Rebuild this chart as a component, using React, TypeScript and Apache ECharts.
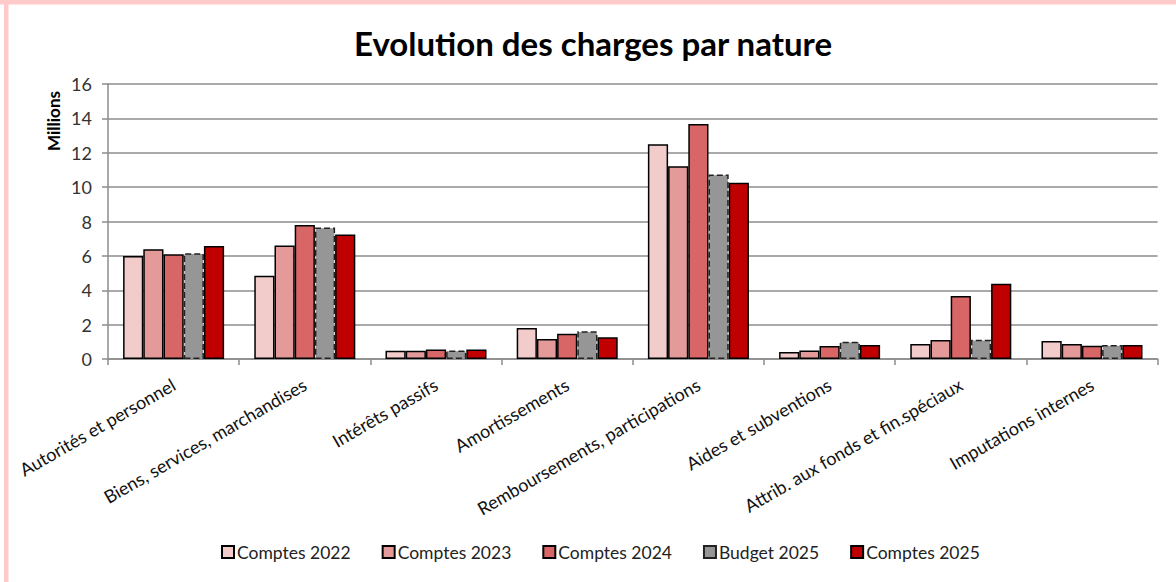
import React, { useEffect, useRef } from "react";
import * as echarts from "echarts";

const categories = [
  "Autorités et personnel",
  "Biens, services, marchandises",
  "Intérêts passifs",
  "Amortissements",
  "Remboursements, participations",
  "Aides et subventions",
  "Attrib. aux fonds et fin.spéciaux",
  "Imputations internes",
];

const comptes2022 = [6.0, 4.84, 0.48, 1.8, 12.5, 0.41, 0.87, 1.05];
const comptes2023 = [6.38, 6.61, 0.48, 1.16, 11.22, 0.5, 1.1, 0.87];
const comptes2024 = [6.1, 7.8, 0.56, 1.47, 13.68, 0.76, 3.66, 0.77];
const budget2025 = [6.16, 7.65, 0.5, 1.61, 10.74, 1.01, 1.12, 0.81];
const comptes2025 = [6.57, 7.25, 0.56, 1.26, 10.25, 0.81, 4.38, 0.81];

const yTicks = { min: 0, max: 16, interval: 2 };

const FONT = "Lato, 'Open Sans', sans-serif";

export default function App() {
  const ref = useRef<HTMLDivElement>(null);
  useEffect(() => {
    if (!ref.current) return;
    const chart = echarts.init(ref.current, undefined, { renderer: "svg" });
    const mk = (name: string, data: number[], color: string, dashed = false) => ({
      name,
      type: "bar",
      data,
      barGap: "0%",
      barCategoryGap: "23%",
      itemStyle: {
        color,
        borderColor: dashed ? "#222" : "#000",
        borderWidth: 1.5,
        borderType: dashed ? "dashed" : "solid",
      },
      emphasis: { disabled: true },
    });
    chart.setOption({
      animation: false,
      textStyle: { fontFamily: FONT },
      title: {
        text: "Evolution des charges par nature",
        left: 588,
        top: 21,
        textAlign: "center",
        textStyle: { fontFamily: FONT, fontWeight: "bold", fontSize: 33, color: "#000" },
      },
      legend: {
        bottom: 16,
        left: 216,
        itemWidth: 12,
        itemHeight: 12,
        itemGap: 31,
        icon: "rect",
        textStyle: { fontFamily: FONT, fontSize: 17.5, color: "#222", padding: [0, 0, 0, -2] },
      },
      grid: { left: 108, right: 18.4, top: 84, bottom: 223, containLabel: false },
      xAxis: {
        type: "category",
        data: categories,
        axisLine: { lineStyle: { color: "#8c8c8c", width: 1.5 } },
        axisTick: { show: true, interval: 0, length: 6, lineStyle: { color: "#8c8c8c", width: 1.5 } },
        axisLabel: {
          interval: 0,
          rotate: 30,
          fontSize: 18,
          color: "#111",
          fontFamily: FONT,
          margin: 24,
        },
      },
      yAxis: {
        type: "value",
        min: yTicks.min,
        max: yTicks.max,
        interval: yTicks.interval,
        axisLine: { show: true, lineStyle: { color: "#8c8c8c", width: 1.5 } },
        axisTick: { show: true, length: 6, lineStyle: { color: "#8c8c8c", width: 1.5 } },
        splitLine: { lineStyle: { color: "#8c8c8c", width: 1.5 } },
        axisLabel: { fontSize: 18, color: "#333", fontFamily: FONT, margin: 16 },
      },
      graphic: [
        { type: "rect", shape: { x: 4, y: 0, width: 4.5, height: 582 }, style: { fill: "#ffcaca" }, silent: true },
        { type: "rect", shape: { x: 0, y: 0, width: 1176, height: 4.5 }, style: { fill: "#ffcaca" }, silent: true },
        {
          type: "text",
          x: 53,
          y: 121,
          rotation: Math.PI / 2,
          style: {
            text: "Millions",
            font: "bold 17px " + FONT,
            fill: "#000",
            textAlign: "center",
            textVerticalAlign: "middle",
          },
          silent: true,
        },
      ],
      series: [
        mk("Comptes 2022", comptes2022, "#f2cbcb"),
        mk("Comptes 2023", comptes2023, "#e59a9a"),
        mk("Comptes 2024", comptes2024, "#d96666"),
        mk("Budget 2025", budget2025, "#969696", true),
        mk("Comptes 2025", comptes2025, "#c00000"),
      ],
    });
    return () => chart.dispose();
  }, []);
  return (
    <div
      ref={ref}
      style={{ position: "fixed", left: 0, top: 0, width: 1176, height: 582, background: "#fff" }}
    />
  );
}
